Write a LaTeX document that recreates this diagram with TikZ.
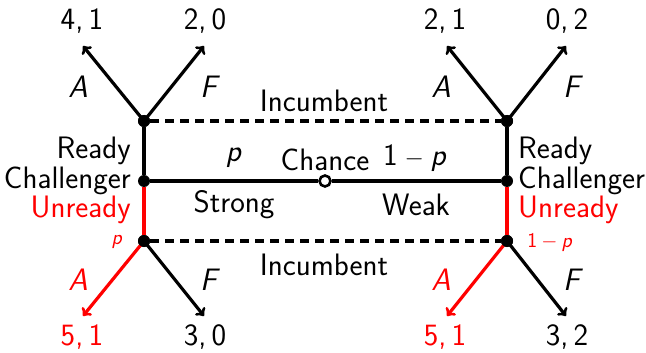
\documentclass[tikz,border=0pt]{standalone}
\usepackage{fontspec}
\begin{document}
\begin{tikzpicture}[x=1pt,y=-1pt,
  every node/.style={font=\sffamily\fontsize{31}{36}\selectfont},
  dot/.style={circle,fill=black,inner sep=0pt,minimum size=12pt},
  odot/.style={circle,draw=black,fill=white,line width=2.6pt,inner sep=0pt,minimum size=11pt},
  edge/.style={line width=3.2pt},
  arr/.style={line width=3.2pt,->},
  info/.style={line width=3.2pt,dash pattern=on 9pt off 6pt},
  small/.style={font=\sffamily\fontsize{21}{25}\selectfont},
  lab/.style={inner sep=0pt}
]
\useasboundingbox (0,0) rectangle (646,353);
% decision nodes
\node[dot] (lt) at (144,121) {};
\node[dot] (lm) at (144,181) {};
\node[dot] (lb) at (144,241) {};
\node[odot] (ch) at (325,181) {};
\node[dot] (rt) at (507,121) {};
\node[dot] (rm) at (507,181) {};
\node[dot] (rb) at (507,241) {};
% arrow ends
\coordinate (ltA) at (83,46);
\coordinate (ltF) at (204,46);
\coordinate (rtA) at (447,46);
\coordinate (rtF) at (566,46);
\coordinate (lbA) at (83,316);
\coordinate (lbF) at (204,316);
\coordinate (rbA) at (447,316);
\coordinate (rbF) at (566,316);
% edges
\draw[edge] (lm) -- (ch);
\draw[edge] (ch) -- (rm);
\draw[edge] (lm) -- (lt);
\draw[edge] (rm) -- (rt);
\draw[edge,red] (lm) -- (lb);
\draw[edge,red] (rm) -- (rb);
\draw[info] (lt) -- (rt);
\draw[info] (lb) -- (rb);
\draw[arr] (lt.center) -- (ltA);
\draw[arr] (lt.center) -- (ltF);
\draw[arr] (rt.center) -- (rtA);
\draw[arr] (rt.center) -- (rtF);
\draw[arr,red] (lb.center) -- (lbA);
\draw[arr] (lb.center) -- (lbF);
\draw[arr,red] (rb.center) -- (rbA);
\draw[arr] (rb.center) -- (rbF);
\node[dot] at (lt) {};
\node[dot] at (lb) {};
\node[dot] at (rt) {};
\node[dot] at (rb) {};
% payoffs
\node[lab] (p1) at (82,21) {4,\hspace{0.17em}1};
\node[lab] (p2) at (205,21) {2,\hspace{0.17em}0};
\node[lab] (p3) at (445,21) {2,\hspace{0.17em}1};
\node[lab] (p4) at (567,21) {0,\hspace{0.17em}2};
\node[lab,red] (p5) at (82,337) {5,\hspace{0.17em}1};
\node[lab] (p6) at (205,337) {3,\hspace{0.17em}0};
\node[lab,red] (p7) at (445,337) {5,\hspace{0.17em}1};
\node[lab] (p8) at (567,337) {3,\hspace{0.17em}2};
% action labels
\node[lab] (a1) at (78,87) {\textit{A}};
\node[lab] (a2) at (210,87) {\textit{F}};
\node[lab] (a3) at (441,87) {\textit{A}};
\node[lab] (a4) at (573,87) {\textit{F}};
\node[lab,red] (a5) at (78,280) {\textit{A}};
\node[lab] (a6) at (210,280) {\textit{F}};
\node[lab,red] (a7) at (441,280) {\textit{A}};
\node[lab] (a8) at (573,280) {\textit{F}};
% info set labels
\node[lab] (i1) at (324,101) {Incumbent};
\node[lab] (i2) at (324,265) {Incumbent};
% chance
\node[lab] (chl) at (325,160) {Chance};
\node[lab] (pl) at (234,158) {\textit{p}};
\node[lab] (ql) at (415,158) {1\hspace{0.22em}$-$\hspace{0.22em}\textit{p}};
\node[lab] (st) at (234,205) {Strong};
\node[lab] (wk) at (416,205) {Weak};
% challenger labels left
\node[lab,anchor=east] (rdL) at (131,151) {Ready};
\node[lab,anchor=east] (chL) at (131,181) {Challenger};
\node[lab,anchor=east,red] (unL) at (131,210) {Unready};
\node[lab,small,red] (spL) at (117,242) {\textit{p}};
% challenger labels right
\node[lab,anchor=west] (rdR) at (518,151) {Ready};
\node[lab,anchor=west] (chR) at (518,181) {Challenger};
\node[lab,anchor=west,red] (unR) at (518,210) {Unready};
\node[lab,small,red] (spR) at (550,242) {1\hspace{0.2em}$-$\hspace{0.2em}\textit{p}};
\end{tikzpicture}
\end{document}
